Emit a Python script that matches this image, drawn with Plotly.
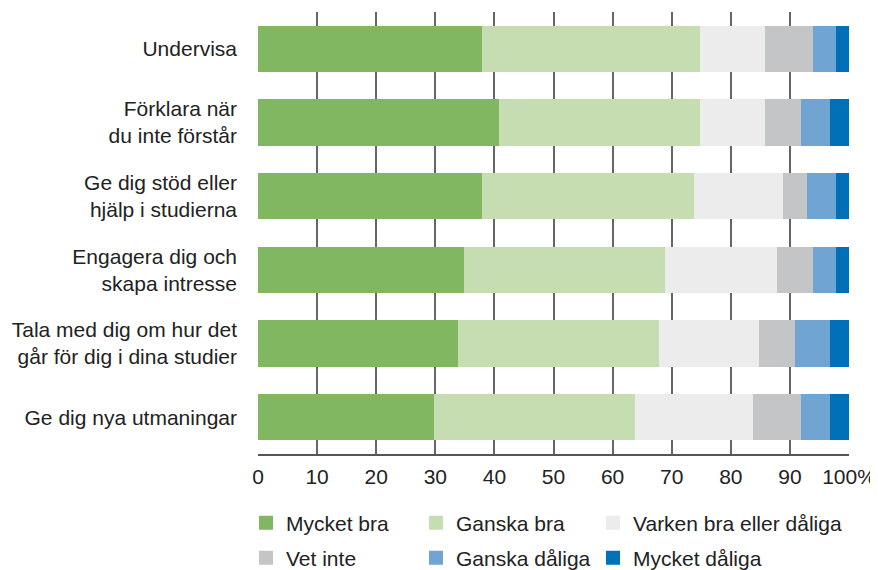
import plotly.graph_objects as go

categories = [
    "Undervisa",
    "Förklara när<br>du inte förstår",
    "Ge dig stöd eller<br>hjälp i studierna",
    "Engagera dig och<br>skapa intresse",
    "Tala med dig om hur det<br>går för dig i dina studier",
    "Ge dig nya utmaningar",
]
series_names = ["Mycket bra", "Ganska bra", "Varken bra eller dåliga",
                "Vet inte", "Ganska dåliga", "Mycket dåliga"]
mycket_bra = [38, 41, 38, 35, 34, 30]
ganska_bra = [37, 34, 36, 34, 34, 34]
varken = [11, 11, 15, 19, 17, 20]
vet_inte = [8, 6, 4, 6, 6, 8]
ganska_daliga = [4, 5, 5, 4, 6, 5]
mycket_daliga = [2, 3, 2, 2, 3, 3]
tick_vals = [0, 10, 20, 30, 40, 50, 60, 70, 80, 90, 100]
tick_text = ["0", "10", "20", "30", "40", "50", "60", "70", "80", "90", "100%"]

colors = ["#82b761", "#c6ddb2", "#ececec", "#c4c5c7", "#6fa4d3", "#0070b8"]
values = [mycket_bra, ganska_bra, varken, vet_inte, ganska_daliga, mycket_daliga]

# The page body has an 8px margin; the figure is sized/placed to compensate.
W, H = 870, 562
FONT = "Liberation Sans, Arial, sans-serif"
FS = 21

legend_ids = ["legend", "legend2", "legend3", "legend4", "legend5", "legend6"]
# legend anchor positions (figure px): columns and rows
col_x = [238, 408, 585]
row_y = [515, 550]

fig = go.Figure()
for i, (name, vals, col) in enumerate(zip(series_names, values, colors)):
    fig.add_trace(go.Bar(
        y=categories, x=vals, name=name, orientation="h",
        marker=dict(color=col, line=dict(width=2, color=col)),
        legend=legend_ids[i], showlegend=True,
    ))

legend_layout = {}
for i, lid in enumerate(legend_ids):
    legend_layout[lid] = dict(
        orientation="v", xref="container", yref="container",
        x=col_x[i % 3] / W, y=1 - row_y[i // 3] / H,
        xanchor="left", yanchor="middle",
        font=dict(size=FS, color="#222222"),
        bgcolor="rgba(0,0,0,0)", itemclick=False, itemdoubleclick=False,
    )

fig.update_layout(
    width=W, height=H, showlegend=True,
    barmode="stack", bargap=0.40,
    plot_bgcolor="white", paper_bgcolor="white",
    margin=dict(l=250, r=29, t=4, b=116, autoexpand=False),
    font=dict(family=FONT, size=FS, color="#222222"),
    xaxis=dict(range=[0, 100], tickvals=tick_vals, ticktext=tick_text,
               showgrid=True, gridcolor="#666666", gridwidth=1.5,
               zeroline=False, showline=True, linecolor="#555555", linewidth=1.5,
               ticks="", ticklabelstandoff=3, automargin=False,
               tickfont=dict(size=FS, color="#222222")),
    yaxis=dict(categoryorder="array", categoryarray=categories, autorange="reversed",
               showgrid=False, zeroline=False, showline=False, ticks="",
               ticklabelstandoff=20, automargin=False,
               tickfont=dict(size=FS, color="#222222")),
    **legend_layout,
)
fig.write_html("out.html")
